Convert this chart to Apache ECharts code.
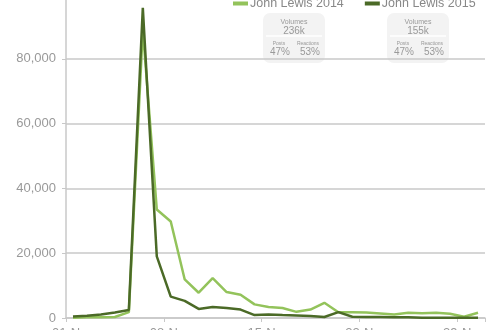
<!DOCTYPE html>
<html><head><meta charset="utf-8">
<script src="https://cdn.jsdelivr.net/npm/echarts@6/dist/echarts.min.js"></script>
<style>html,body{margin:0;padding:0;background:#fff;width:500px;height:330px;overflow:hidden;position:relative;}#c{position:absolute;left:0;top:-20px;width:500px;height:360px;}</style>
</head><body><div id="c"></div>
<script>
var categories = [];
for (var d = 1; d <= 30; d++) categories.push((d < 10 ? '0' + d : '' + d) + '-Nov');
var series2014 = [100,200,200,300,1800,89000,33500,29800,11900,7800,12300,8000,7200,4200,3400,3100,1900,2600,4700,1800,1800,1700,1400,1100,1600,1500,1600,1300,400,1600];
var series2015 = [500,700,1100,1700,2500,95700,19000,6600,5300,2800,3400,3100,2600,900,1100,900,800,600,300,1800,400,300,300,200,200,100,100,100,100,100];
var seriesNames = ['John Lewis 2014','John Lewis 2015'];
var volumes = ['236k','155k'];
var posts = ['47%','47%'];
var reactions = ['53%','53%'];
var yTicks = [0,20000,40000,60000,80000,100000];

var colors = ['#93c35b','#4b6a27'];
var OFF = 20; // container shifted up by this many pixels
var chart = echarts.init(document.getElementById('c'));
var font = 'Liberation Sans, Helvetica, Arial, sans-serif';

function box(cx, i) {
  var x = cx - 31, t = OFF;
  return {
    type: 'group', children: [
      {type:'rect', shape:{x:x, y:t+13, width:62, height:50, r:7}, style:{fill:'#f3f3f3'}},
      {type:'line', shape:{x1:x+3, y1:t+36, x2:x+59, y2:t+36}, style:{stroke:'#ffffff', lineWidth:1.5}},
      {type:'text', style:{x:cx, y:t+22, text:'Volumes', fill:'#999', font:'7px ' + font, textAlign:'center', textVerticalAlign:'middle'}},
      {type:'text', style:{x:cx, y:t+31.5, text:volumes[i], fill:'#999', font:'10px ' + font, textAlign:'center', textVerticalAlign:'middle'}},
      {type:'text', style:{x:cx-15, y:t+44, text:'Posts', fill:'#999', font:'5px ' + font, textAlign:'center', textVerticalAlign:'middle'}},
      {type:'text', style:{x:cx+14, y:t+44, text:'Reactions', fill:'#999', font:'5px ' + font, textAlign:'center', textVerticalAlign:'middle'}},
      {type:'text', style:{x:cx-14, y:t+52.5, text:posts[i], fill:'#999', font:'10px ' + font, textAlign:'center', textVerticalAlign:'middle'}},
      {type:'text', style:{x:cx+16, y:t+52.5, text:reactions[i], fill:'#999', font:'10px ' + font, textAlign:'center', textVerticalAlign:'middle'}}
    ]
  };
}

chart.setOption({
  animation: false,
  textStyle: {fontFamily: font},
  grid: {left: 66, right: 15, top: OFF - 6, bottom: 21.5, containLabel: false},
  legend: {
    data: seriesNames, left: 233, top: OFF - 3, itemWidth: 15, itemHeight: 4, itemGap: 21,
    icon: 'rect', padding: 0,
    textStyle: {color: '#888', fontSize: 12.5, fontFamily: font, padding: [0,0,0,-3]}
  },
  xAxis: {
    type: 'category', data: categories, boundaryGap: true,
    axisLine: {show: true, lineStyle: {color: '#c8c8c8', width: 1.5}},
    axisTick: {show: true, interval: 6, length: 4, lineStyle: {color: '#c8c8c8'}},
    axisLabel: {interval: 6, color: '#999', fontSize: 13, margin: 9, fontFamily: font}
  },
  yAxis: {
    type: 'value', min: yTicks[0], max: yTicks[yTicks.length-1], interval: 20000,
    axisLine: {show: true, lineStyle: {color: '#c8c8c8', width: 1.5}},
    axisTick: {show: true, length: 4, lineStyle: {color: '#c8c8c8'}},
    splitLine: {lineStyle: {color: '#c8c8c8', width: 1.5}},
    axisLabel: {color: '#999', fontSize: 13, margin: 10, fontFamily: font,
      formatter: function (v) { return v.toLocaleString('en-US'); }}
  },
  series: [
    {name: seriesNames[0], type: 'line', data: series2014, symbol: 'none', color: colors[0], lineStyle: {width: 2.5, color: colors[0]}, z: 2},
    {name: seriesNames[1], type: 'line', data: series2015, symbol: 'none', color: colors[1], lineStyle: {width: 2.5, color: colors[1]}, z: 3}
  ],
  graphic: [box(294, 0), box(418, 1)]
});
</script></body></html>
